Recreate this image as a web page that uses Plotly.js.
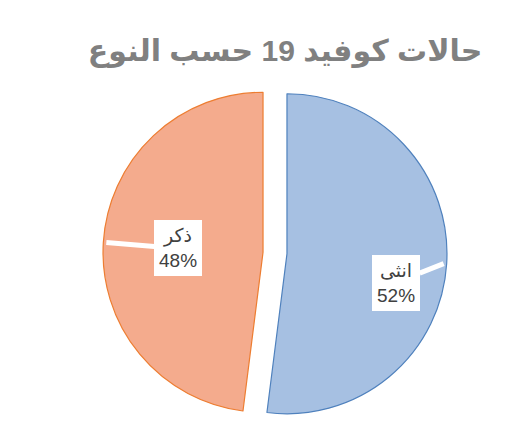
<!DOCTYPE html>
<html>
<head>
<meta charset="utf-8">
<script src="https://cdn.plot.ly/plotly-3.0.1.min.js"></script>
<style>html,body{margin:0;padding:0;background:#fff;}#chart{width:531px;height:428px;}</style>
</head>
<body>
<div id="chart"></div>
<script>
// ---- data ----
const titleText = "حالات كوفيد 19 حسب النوع";
const categories = ["انثى", "ذكر"];
const values = [52, 48];

// ---- style / layout ----
const sliceColors = ["#a6c0e2", "#f4ab8d"];
const lineColors = ["#4f81bd", "#ed7d31"];
const W = 531, H = 428;
const cx = 275, cy = 253;   // pie centre (px)
const R = 160;              // radius (px)
const pull = 0.075;
const half = R * (1 + pull);
const domX = [(cx - half) / W, (cx + half) / W];
const domY = [(H - (cy + half)) / H, (H - (cy - half)) / H];
const boxOffsets = [[-48, 19], [72, 6]]; // label box offset from tip (px)

const total = values.reduce((a, b) => a + b, 0);
let cum = 0;
const annotations = values.map((v, i) => {
  const mid = (cum + v / 2) / total * 2 * Math.PI;
  cum += v;
  const d = R * (1 + pull) - 3;
  const tx = cx + d * Math.sin(mid);
  const ty = cy - d * Math.cos(mid);
  return {
    xref: 'paper', yref: 'paper',
    x: tx / W, y: 1 - ty / H,
    ax: boxOffsets[i][0], ay: boxOffsets[i][1],
    showarrow: true, arrowhead: 0, arrowwidth: 5, arrowcolor: '#ffffff',
    standoff: 0, startstandoff: 0,
    text: categories[i] + '<br>' + Math.round(v / total * 100) + '%',
    font: {family: 'Liberation Sans, DejaVu Sans, sans-serif', size: 19, color: '#404040'},
    bgcolor: '#ffffff', borderpad: 5, borderwidth: 0, align: 'center'
  };
});

const trace = {
  type: 'pie',
  labels: categories,
  values: values,
  sort: false,
  direction: 'clockwise',
  rotation: 0,
  pull: [pull, pull],
  textinfo: 'none',
  hoverinfo: 'label+percent',
  marker: {colors: sliceColors, line: {color: lineColors, width: 1.2}},
  domain: {x: domX, y: domY}
};

const layout = {
  width: W, height: H,
  margin: {l: 0, r: 0, t: 0, b: 0},
  paper_bgcolor: '#ffffff',
  showlegend: false,
  title: {
    text: titleText,
    x: 0.537, xanchor: 'center', xref: 'paper',
    y: 1 - 50 / H, yanchor: 'middle', yref: 'paper',
    font: {family: 'Liberation Sans, DejaVu Sans, sans-serif', size: 30, color: '#808080', weight: 'bold'}
  },
  annotations: annotations
};

Plotly.newPlot('chart', [trace], layout, {displayModeBar: false, staticPlot: true});
</script>
</body>
</html>
